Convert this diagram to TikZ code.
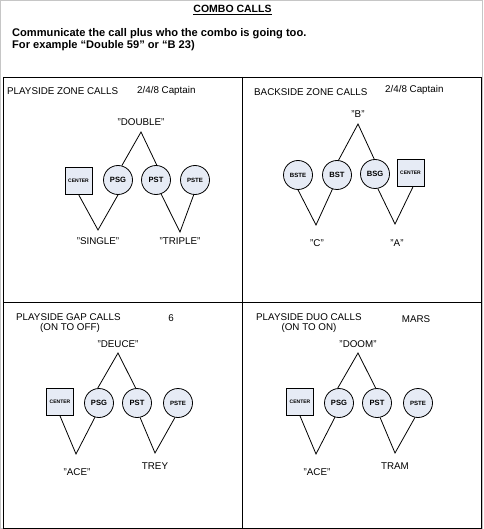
\documentclass[tikz,border=0pt]{standalone}
\usepackage{fontspec}
\setmainfont{Liberation Sans}
\definecolor{pfill}{HTML}{E6EBF5}
\tikzset{
  txt/.style={inner sep=0pt, font=\fontsize{9.8}{11}\selectfont},
  ttl/.style={inner sep=0pt, anchor=west, font=\fontsize{9.8}{11}\selectfont},
  player/.style={circle, draw, fill=pfill, line width=0.8pt, minimum size=29pt, inner sep=0pt, font=\bfseries\fontsize{7.6}{8}\selectfont},
  small/.style={font=\bfseries\fontsize{6.1}{7}\selectfont},
  ctr/.style={rectangle, draw, fill=pfill, line width=0.8pt, minimum size=27pt, inner sep=0pt, font=\bfseries\fontsize{5}{6}\selectfont},
  link/.style={line width=0.8pt},
  frame/.style={line width=0.9pt},
  hdrtxt/.style={inner sep=0pt, anchor=west, font=\bfseries\fontsize{11.1}{12}\selectfont}
}
\begin{document}
\begin{tikzpicture}[x=1pt,y=-1pt]
\useasboundingbox (0,0) rectangle (483,529);
% outer gray frame
\draw[gray!45, line width=1pt] (0.5,0.5) rectangle (482.5,528.5);
% panel frames
\draw[frame] (3,77) -- (481,77);
\draw[frame] (3,302) -- (481,302);
\draw[frame] (3,77) -- (3,528) -- (481,528) -- (481,77);
\draw[frame] (242,77) -- (242,528);

% header
\node[inner sep=0pt, font=\bfseries\fontsize{10.5}{12}\selectfont] (hdr) at (232.5,10) {\underline{COMBO CALLS}};
\node[hdrtxt] (l1) at (12,34) {Communicate the call plus who the combo is going too.};
\node[hdrtxt] (l2) at (12,45.5) {For example “Double 59” or “B 23)};

% ---------------- Panel 1: playside zone
\node[ttl] (t1) at (7,91) {PLAYSIDE ZONE CALLS};
\node[ttl] (t1b) at (137,91) {2/4/8 Captain};
\node[ctr] (c1) at (78.5,180.5) {CENTER};
\node[player] (psg1) at (118,180) {PSG};
\node[player] (pst1) at (156,180) {PST};
\node[player, small] (pste1) at (195,180) {PSTE};
\node[txt] (dbl) at (141,122) {"DOUBLE"};
\node[txt] (sgl) at (98,241) {"SINGLE"};
\node[txt] (tpl) at (180,241) {"TRIPLE"};
\coordinate (a1) at (141,132);
\coordinate (b1) at (98,230);
\coordinate (d1) at (180,232);
\draw[link] (psg1.75) -- (a1) -- (pst1.87);
\draw[link] (c1.south) -- (b1) -- (psg1.south);
\draw[link] (pst1.-70) -- (d1) -- (pste1.-95);

% ---------------- Panel 2: backside zone
\node[ttl] (t2) at (254,92) {BACKSIDE ZONE CALLS};
\node[ttl] (t2b) at (385,90) {2/4/8 Captain};
\node[player, small] (bste) at (298,175) {BSTE};
\node[player] (bst) at (337,175) {BST};
\node[player] (bsg) at (375,174) {BSG};
\node[ctr] (c2) at (410.5,173) {CENTER};
\node[txt] (bB) at (358,114) {"B"};
\node[txt] (bC) at (317,243) {"C"};
\node[txt] (bA) at (397,243) {"A"};
\coordinate (a2) at (358,124);
\coordinate (b2) at (316,225);
\coordinate (d2) at (395,224);
\draw[link] (bst.84) -- (a2) -- (bsg.93);
\draw[link] (bste.south) -- (b2) -- (bst.-108);
\draw[link] (bsg.-79) -- (d2) -- (c2.-80);

% ---------------- Panel 3: playside gap
\node[ttl] (t3) at (16,317) {PLAYSIDE GAP CALLS};
\node[txt] (t3s) at (70,327.5) {(ON TO OFF)};
\node[txt] (t3b) at (171,318) {6};
\node[ctr] (c3) at (60,402) {CENTER};
\node[player] (psg3) at (99,403) {PSG};
\node[player] (pst3) at (137,403) {PST};
\node[player, small] (pste3) at (178,403) {PSTE};
\node[txt] (deuce) at (118,344) {"DEUCE"};
\node[txt] (ace3) at (77,472) {"ACE"};
\node[txt] (trey) at (155,466) {TREY};
\coordinate (a3) at (118,353);
\coordinate (b3) at (76,454);
\coordinate (d3) at (155,453);
\draw[link] (psg3.95) -- (a3) -- (pst3.95);
\draw[link] (c3.south) -- (b3) -- (psg3.-106);
\draw[link] (pst3.-78) -- (d3) -- (pste3.-102);

% ---------------- Panel 4: playside duo
\node[ttl] (t4) at (256,317) {PLAYSIDE DUO CALLS};
\node[txt] (t4s) at (309,327.5) {(ON TO ON)};
\node[txt] (t4b) at (416,319) {MARS};
\node[ctr] (c4) at (300,402) {CENTER};
\node[player] (psg4) at (339,403) {PSG};
\node[player] (pst4) at (377,403) {PST};
\node[player, small] (pste4) at (418,403) {PSTE};
\node[txt] (doom) at (358,344) {"DOOM"};
\node[txt] (ace4) at (317,472) {"ACE"};
\node[txt] (tram) at (395,466) {TRAM};
\coordinate (a4) at (358,353);
\coordinate (b4) at (316,454);
\coordinate (d4) at (395,453);
\draw[link] (psg4.95) -- (a4) -- (pst4.95);
\draw[link] (c4.south) -- (b4) -- (psg4.-106);
\draw[link] (pst4.-78) -- (d4) -- (pste4.-102);
\end{tikzpicture}
\end{document}
